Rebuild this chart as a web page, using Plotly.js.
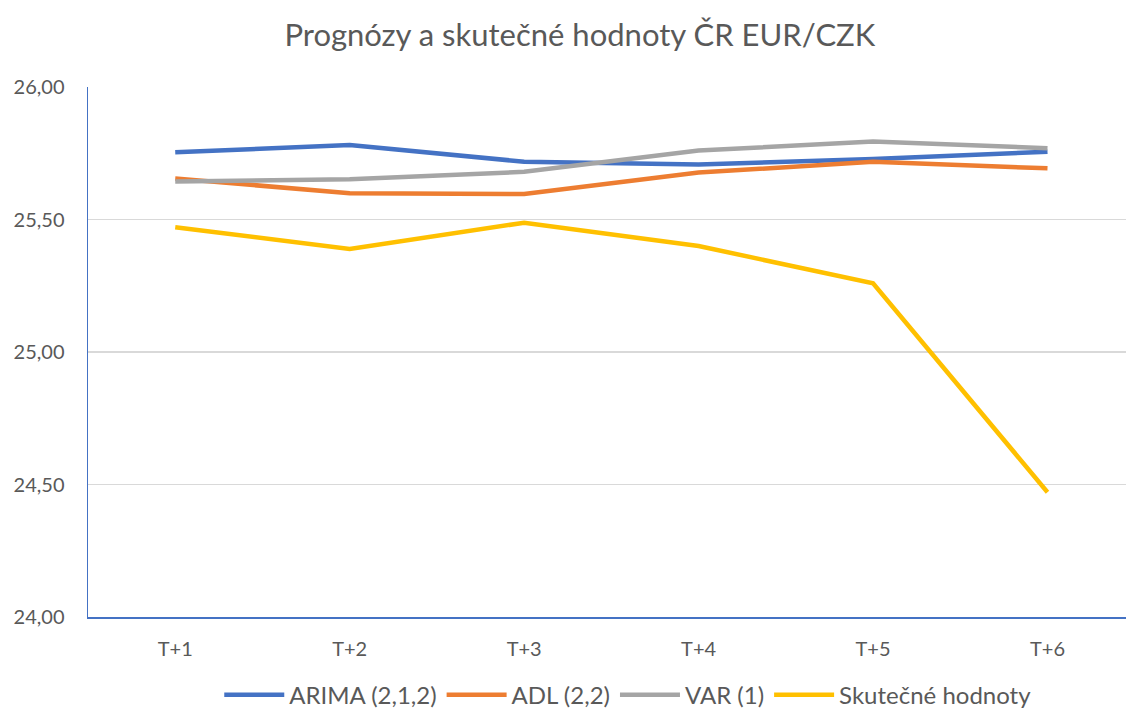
<!DOCTYPE html>
<html>
<head>
<meta charset="utf-8">
<script src="https://cdn.plot.ly/plotly-3.0.1.min.js"></script>
<style>html,body{margin:0;padding:0;background:#fff;}#chart{width:1126px;height:716px;}</style>
</head>
<body>
<div id="chart"></div>
<script>
const categories = ["T+1", "T+2", "T+3", "T+4", "T+5", "T+6"];
const arima = [25.754, 25.781, 25.718, 25.708, 25.728, 25.756];
const adl = [25.655, 25.599, 25.596, 25.677, 25.718, 25.693];
const varModel = [25.643, 25.652, 25.680, 25.760, 25.794, 25.769];
const actual = [25.471, 25.389, 25.488, 25.400, 25.259, 24.471];
const seriesNames = ["ARIMA (2,1,2)", "ADL (2,2)", "VAR (1)", "Skutečné hodnoty"];
const yTicks = [24.0, 24.5, 25.0, 25.5, 26.0];

const colors = ["#4472C4", "#ED7D31", "#A5A5A5", "#FFC000"];
const data = [arima, adl, varModel, actual].map((vals, i) => ({
  type: "scatter",
  mode: "lines",
  x: categories,
  y: vals,
  name: seriesNames[i],
  line: {color: colors[i], width: 4.5},
  hoverinfo: "skip"
}));

const layout = {
  width: 1126,
  height: 716,
  separators: ", ",
  margin: {l: 88, r: 0, t: 87, b: 99, autoexpand: false},
  paper_bgcolor: "#ffffff",
  plot_bgcolor: "#ffffff",
  font: {family: "Lato, 'Noto Sans', sans-serif", color: "#595959"},
  title: {
    text: "Prognózy a skutečné hodnoty ČR EUR/CZK",
    font: {size: 31, color: "#595959", family: "Lato, 'Noto Sans', sans-serif"},
    x: 0.515, xanchor: "center",
    y: 0.951, yanchor: "middle"
  },
  xaxis: {
    type: "category",
    range: [-0.5, 5.45],
    showgrid: false,
    zeroline: false,
    showline: true,
    linecolor: "#4472C4",
    linewidth: 1.5,
    ticks: "",
    ticklabelstandoff: 13,
    tickfont: {size: 20, color: "#595959"}
  },
  yaxis: {
    range: [24, 26],
    tickvals: yTicks,
    tickformat: ".2f",
    showgrid: true,
    gridcolor: "#D9D9D9",
    gridwidth: 1.3,
    zeroline: false,
    showline: true,
    linecolor: "#4472C4",
    linewidth: 1.5,
    ticks: "",
    ticklabelstandoff: 18,
    tickfont: {size: 20, color: "#595959"}
  },
  showlegend: true,
  legend: {
    orientation: "h",
    x: 0.52, xanchor: "center",
    y: -0.19, yanchor: "bottom",
    font: {size: 24, color: "#595959"},
    itemwidth: 60,
    traceorder: "normal"
  }
};

Plotly.newPlot("chart", data, layout, {displayModeBar: false, staticPlot: true});
</script>
</body>
</html>
